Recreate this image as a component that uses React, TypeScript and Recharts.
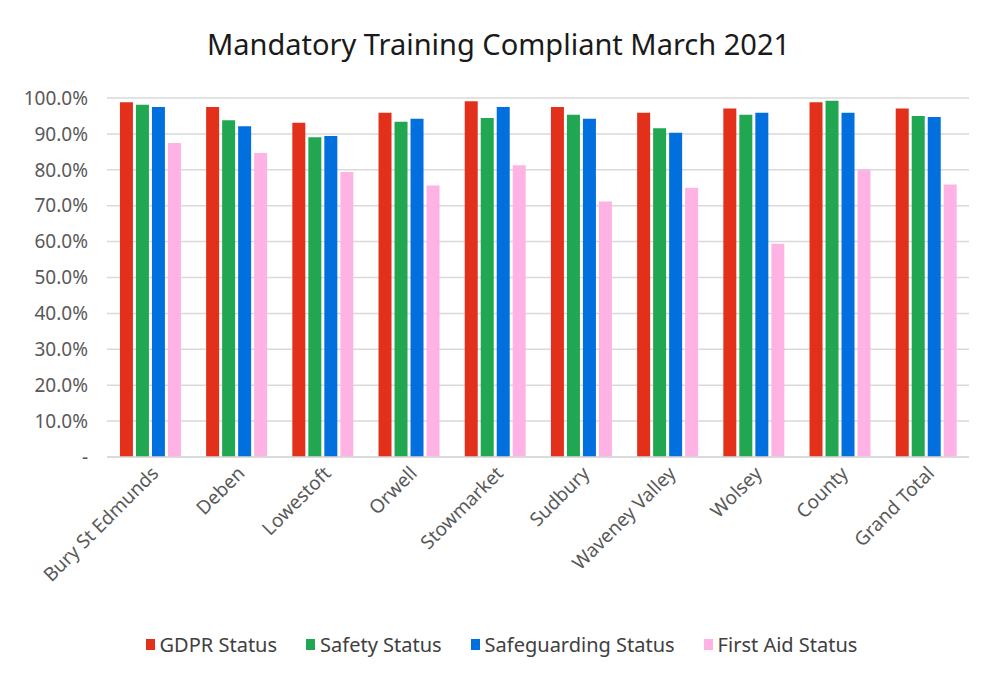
import React from "react";
import { Bar, BarChart, CartesianGrid, Legend, XAxis, YAxis } from "recharts";

const sites = ["Bury St Edmunds", "Deben", "Lowestoft", "Orwell", "Stowmarket", "Sudbury", "Waveney Valley", "Wolsey", "County", "Grand Total"];
const gdpr = [98.8, 97.5, 93.1, 95.9, 99.1, 97.5, 95.9, 97.1, 98.8, 97.1];
const safety = [98.1, 93.8, 89.1, 93.4, 94.4, 95.3, 91.6, 95.3, 99.2, 95.0];
const safeguarding = [97.5, 92.1, 89.4, 94.2, 97.5, 94.2, 90.3, 95.9, 95.9, 94.7];
const firstAid = [87.5, 84.7, 79.4, 75.6, 81.3, 71.2, 75.0, 59.4, 80.0, 75.9];
const yTicks = [0, 10, 20, 30, 40, 50, 60, 70, 80, 90, 100];

const series = [
  { key: "gdpr", name: "GDPR Status", color: "#E2301A" },
  { key: "safety", name: "Safety Status", color: "#21A651" },
  { key: "safeguarding", name: "Safeguarding Status", color: "#026FDE" },
  { key: "firstAid", name: "First Aid Status", color: "#FFB3E5" },
];

const data = sites.map((site, i) => ({
  site,
  gdpr: gdpr[i],
  safety: safety[i],
  safeguarding: safeguarding[i],
  firstAid: firstAid[i],
}));

const font = "'Noto Sans', 'DejaVu Sans', sans-serif";

// keep the legend in series order (recharts sorts it by name otherwise)
function LegendRow() {
  return (
    <div style={{ display: "flex", justifyContent: "center", gap: 29, fontFamily: font, fontSize: 20, color: "#404040", paddingLeft: 34 }}>
      {series.map((s) => (
        <div key={s.key} style={{ display: "flex", alignItems: "center", gap: 5 }}>
          <span style={{ display: "inline-block", width: 9, height: 11, background: s.color }} />
          <span>{s.name}</span>
        </div>
      ))}
    </div>
  );
}

export default function App() {
  return (
    <div style={{ position: "relative", width: 997, height: 680, background: "#fff", margin: -8, fontFamily: font }}>
      <div style={{ position: "absolute", left: 2, top: 2, width: 990, height: 674, border: "1px solid #d9d9d9" }} />
      <div style={{ position: "absolute", top: 24, width: 997, textAlign: "center", fontSize: 29, color: "#1a1a1a" }}>
        Mandatory Training Compliant March 2021
      </div>
      <div style={{ position: "absolute", left: 0, top: 0 }}>
        <BarChart
          width={997}
          height={680}
          data={data}
          margin={{ top: 98, right: 28, bottom: 22, left: 0 }}
          barCategoryGap="15%"
          barGap={3}
        >
          <CartesianGrid vertical={false} stroke="#d9d9d9" strokeWidth={1.5} />
          <XAxis
            dataKey="site"
            interval={0}
            angle={-45}
            textAnchor="end"
            height={174}
            tickLine={false}
            axisLine={{ stroke: "#d9d9d9", strokeWidth: 1.5 }}
            tick={{ fill: "#595959", fontSize: 19, fontFamily: font }}
          />
          <YAxis
            domain={[0, 100]}
            ticks={yTicks}
            width={107}
            tickLine={false}
            axisLine={false}
            tickMargin={13}
            tick={{ fill: "#595959", fontSize: 19, fontFamily: font }}
            tickFormatter={(v: number) => (v === 0 ? "-" : `${v.toFixed(1)}%`)}
          />
          <Legend verticalAlign="bottom" content={<LegendRow />} />
          {series.map((s) => (
            <Bar key={s.key} dataKey={s.key} name={s.name} fill={s.color} isAnimationActive={false} />
          ))}
        </BarChart>
      </div>
    </div>
  );
}
